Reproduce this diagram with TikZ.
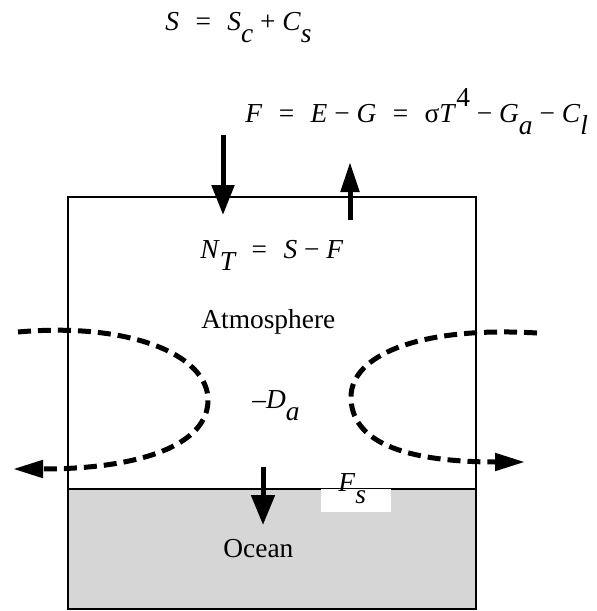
\documentclass[tikz,border=0pt]{standalone}
\usepackage{fontspec}
\setmainfont{Liberation Serif}
\usepackage{xcolor}
\usepackage{tikz}
\usetikzlibrary{arrows.meta, positioning}
\definecolor{grisoceano}{RGB}{214,214,214}
\newcommand{\bajo}[1]{\raisebox{-6pt}{\itshape #1}}
\newcommand{\alto}[1]{\raisebox{8pt}{#1}}
\newcommand{\eqs}{\hspace{0.6em}=\hspace{0.6em}}
\newcommand{\ops}[1]{\hspace{0.25em}#1\hspace{0.25em}}

\begin{document}
\begin{tikzpicture}[x=0.5pt, y=-0.5pt,
    eqlabel/.style={inner sep=0pt, anchor=base west, font=\fontsize{13.7}{16}\selectfont},
    boxline/.style={line width=0.75pt},
    fluxarrow/.style={-{Triangle[length=15pt, width=11pt]}, line width=2.5pt},
    circarrow/.style={-{Triangle[length=15pt, width=8.5pt]}, line width=2.5pt,
                      dash pattern=on 6.5pt off 3.5pt}
]
\useasboundingbox (0,0) rectangle (597,611);
% ocean and atmosphere boxes
\fill [grisoceano] (68,489) rectangle (476,609);
\draw [boxline] (68,197) rectangle (476,609);
\draw [boxline] (68,489) -- (476,489);
\fill [white] (321,489.4) rectangle (391,512);
% labels
\node (seq) [eqlabel] at (165,30) {\textit{S}\eqs\textit{S}\bajo{c}\ops{+}\textit{C}\bajo{s}};
\node (feq) [eqlabel] at (245,122) {\textit{F}\eqs\textit{E}\ops{−}\textit{G}\eqs σ\textit{T}\alto{4}\ops{−}\textit{G}\bajo{a}\ops{−}\textit{C}\bajo{l}};
\node (neq) [eqlabel] at (200,258) {\textit{N}\bajo{T}\eqs\textit{S}\ops{−}\textit{F}};
\node (atmos) [eqlabel] at (201,328) {Atmosphere};
\node (da) [eqlabel] at (252,408) {–\textit{D}\bajo{a}};
\node (fs) [eqlabel] at (338,491) {\textit{F}\bajo{s}};
\node (ocean) [eqlabel] at (223,557) {Ocean};
% flux arrows
\coordinate (sin0) at (223,135);
\coordinate (sin1) at (223,215);
\coordinate (fout0) at (350,220);
\coordinate (fout1) at (350,162);
\coordinate (fs0) at (263,467);
\coordinate (fs1) at (263,525);
\draw [fluxarrow] (sin0) -- (sin1);
\draw [fluxarrow, -{Triangle[length=15pt, width=9pt]}] (fout0) -- (fout1);
\draw [fluxarrow, -{Triangle[length=15pt, width=11.5pt]}] (fs0) -- (fs1);
% transport
\coordinate (izq0) at (18,332);
\coordinate (izq1) at (13,469);
\coordinate (der0) at (537,333);
\coordinate (der1) at (525,462);
\draw [circarrow] (izq0) .. controls (130,322) and (208,355) .. (208,400)
    .. controls (208,445) and (140,469) .. (izq1);
\draw [circarrow] (der0) .. controls (420,326) and (351,355) .. (351,397)
    .. controls (351,440) and (400,462) .. (der1);
\end{tikzpicture}
\end{document}
